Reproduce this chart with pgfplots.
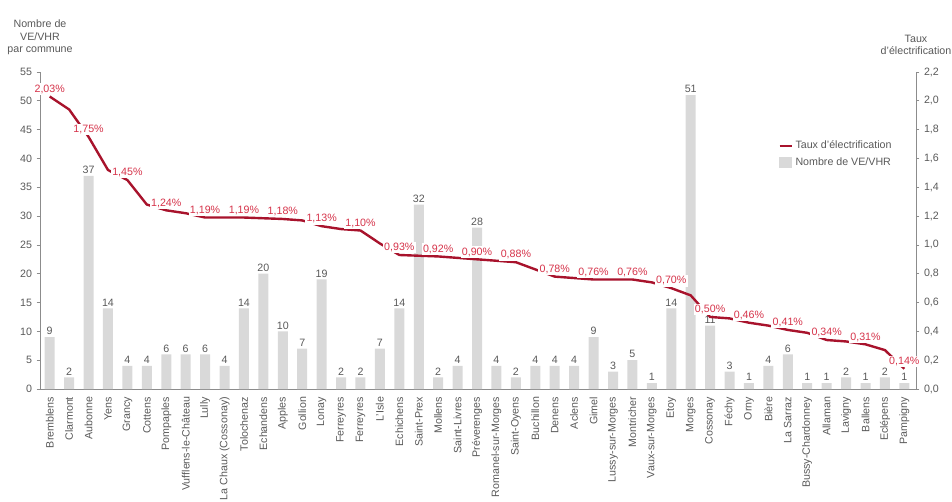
\documentclass[border=0pt]{standalone}
\usepackage{pgfplots}
\pgfplotsset{compat=1.18}
\usepackage{pgfplotstable}
\usepackage{fontspec}
\setmainfont{Liberation Sans}

\definecolor{barfill}{HTML}{D9D9D9}
\definecolor{linered}{HTML}{A8132C}
\definecolor{labelred}{HTML}{D6334A}
\definecolor{txt}{HTML}{595959}
\definecolor{axisgray}{HTML}{8C8C8C}

% idx, nombre de VE/VHR, taux d'electrification (%)
\pgfplotstableread{
idx n rate
0 9 2.03
1 2 1.94
2 37 1.75
3 14 1.52
4 4 1.45
5 4 1.28
6 6 1.24
7 6 1.22
8 6 1.19
9 4 1.19
10 14 1.19
11 20 1.185
12 10 1.18
13 7 1.17
14 19 1.13
15 2 1.11
16 2 1.10
17 7 1.01
18 14 0.93
19 32 0.925
20 2 0.92
21 4 0.91
22 28 0.90
23 4 0.89
24 2 0.88
25 4 0.83
26 4 0.78
27 4 0.77
28 9 0.76
29 3 0.76
30 5 0.76
31 1 0.74
32 14 0.70
33 51 0.65
34 11 0.50
35 3 0.49
36 1 0.46
37 4 0.44
38 6 0.41
39 1 0.39
40 1 0.34
41 2 0.33
42 1 0.31
43 2 0.27
44 1 0.14
}\communes

\newcommand{\smallfont}{\fontsize{8}{9.5}\selectfont}

\begin{document}
\begin{tikzpicture}
\useasboundingbox (-30pt,-84pt) rectangle (684pt,291.75pt);
\pgfplotsset{
  base/.style={
    width=657pt, height=237.75pt, scale only axis,
    xmin=-0.5, xmax=44.6,
    clip mode=individual,
    font=\smallfont,
    /pgf/number format/assume math mode=true,
    tick label style={text=txt, font=\smallfont},
    axis line style={axisgray, line width=0.6pt},
    major tick length=2.5pt,
    tick style={axisgray, line width=0.6pt},
    tick align=outside,
  }
}
\begin{axis}[base,
  ymin=0, ymax=55, ytick={0,5,...,55},
  axis x line*=bottom, axis y line*=left,
  xtick={0,...,44},
  xticklabels={Bremblens, Clarmont, Aubonne, Yens, Grancy, Cottens, Pompaples,
    Vufflens-le-Château, Lully, La Chaux (Cossonay), Tolochenaz, Echandens,
    Apples, Gollion, Lonay, Ferreyres, Ferreyres, L'Isle, Echichens, Saint-Prex,
    Mollens, Saint-Livres, Préverenges, Romanel-sur-Morges, Saint-Oyens,
    Buchillon, Denens, Aclens, Gimel, Lussy-sur-Morges, Montricher,
    Vaux-sur-Morges, Etoy, Morges, Cossonay, Féchy, Orny, Bière, La Sarraz,
    Bussy-Chardonney, Allaman, Lavigny, Ballens, Eclépens, Pampigny},
  x tick label style={rotate=90, anchor=east},
  xtick style={draw=none},
  ybar, bar width=7.5pt,
  nodes near coords,
  every node near coord/.append style={text=txt, font=\smallfont, inner sep=1.5pt},
]
\addplot[fill=barfill, draw=none] table[x=idx, y=n] {\communes};
\node[anchor=south, align=center, text=txt, font=\smallfont, inner sep=0pt]
  at (rel axis cs:0,1) [yshift=12.5pt] {Nombre de\\VE/VHR\\par commune};
\end{axis}

\begin{axis}[base,
  ymin=0, ymax=2.2,
  ytick={0,0.2,0.4,0.6,0.8,1.0,1.2,1.4,1.6,1.8,2.0,2.2},
  yticklabel style={/pgf/number format/.cd, fixed, fixed zerofill, precision=1, use comma},
  axis y line*=right, axis x line=none,
  legend style={at={(0.98,0.80)}, anchor=north east, draw=none, fill=none,
    font=\smallfont, text=txt, row sep=1pt,
    legend cell align=left},
  legend image code/.code={\draw[#1] (0pt,0pt) -- (9pt,0pt);},
]
\addplot[linered, line width=1.8pt] table[x=idx, y=rate] {\communes};
\addplot[draw=none, forget plot,
  x filter/.expression={mod(x,2)==0 ? x : nan},
  unbounded coords=discard,
  nodes near coords={\pgfmathprintnumber[fixed, fixed zerofill, precision=2, use comma]{\pgfplotspointmeta}\%},
  point meta=y,
  every node near coord/.append style={text=labelred, font=\smallfont,
    fill=white, inner sep=1pt, anchor=south, yshift=1pt},
] table[x=idx, y=rate] {\communes};
\addlegendimage{legend image code/.code={\fill[barfill] (0pt,-3.5pt) rectangle (9pt,3.5pt);}}
\legend{Taux d'électrification, Nombre de VE/VHR}
\node[anchor=south, align=center, text=txt, font=\smallfont, inner sep=0pt]
  at (rel axis cs:1,1) [yshift=12.5pt] {Taux\\d'électrification};
\end{axis}
\end{tikzpicture}
\end{document}
